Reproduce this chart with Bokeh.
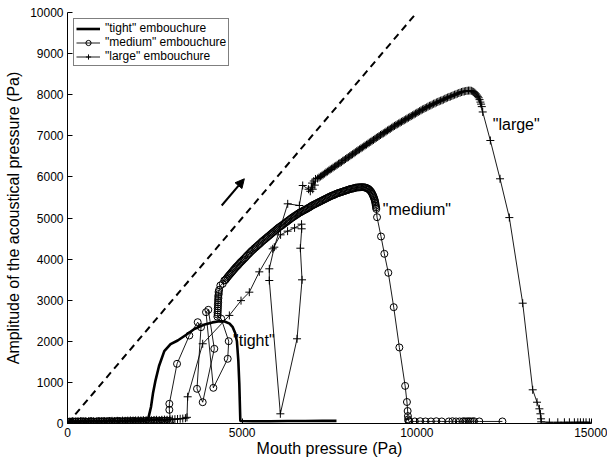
from bokeh.plotting import figure
from bokeh.models import (Range1d, FixedTicker, NumeralTickFormatter, Legend, LegendItem,
                          Arrow, NormalHead, ColumnDataSource)
from bokeh.core.properties import value
from bokeh.embed import file_html
from bokeh.resources import INLINE

FONT = "Liberation Sans"

# ---------------- "tight" embouchure (thick line, no markers) ----------------
tight_p = [0, 300, 600, 900, 1200, 1500, 1800, 2100, 2250, 2320, 2390, 2450, 2520, 2620,
           2771, 2950, 3155, 3400, 3630, 3900, 4150, 4350, 4500, 4640, 4730, 4800, 4850,
           4890, 4918, 4947, 4960, 5300, 5800, 6300, 6800, 7300, 7700]
tight_a = [45, 50, 50, 55, 55, 60, 65, 70, 75, 150, 400, 750, 1050, 1400,
           1760, 1930, 2020, 2160, 2300, 2400, 2460, 2490, 2480, 2430, 2343, 2200, 2000,
           1533, 973, 73, 60, 55, 55, 60, 60, 65, 65]

# ---------------- "medium" embouchure (circles) ----------------
# below threshold
medium_flat_p = [0, 50, 100, 150, 200, 250, 300, 350, 400, 450,
                 500, 550, 600, 650, 700, 750, 800, 850, 900, 950,
                 1000, 1050, 1100, 1150, 1200, 1250, 1300, 1350, 1400, 1450,
                 1500, 1550, 1600, 1650, 1700, 1750, 1800, 1850, 1900, 1950,
                 2000, 2050, 2100, 2150, 2200, 2250, 2300, 2350, 2400, 2450,
                 2500, 2550, 2600, 2650, 2700, 2750, 2800, 2850, 2900]
medium_flat_a = [40, 45, 35, 50, 40, 45, 50, 40, 55, 45,
                 50, 40, 45, 55, 50, 45, 40, 50, 55, 45,
                 50, 55, 45, 50, 60, 50, 45, 55, 50, 60,
                 55, 50, 45, 60, 55, 50, 60, 55, 65, 50,
                 55, 60, 50, 65, 55, 60, 65, 55, 60, 65,
                 70, 60, 55, 65, 70, 60, 65, 70, 60]
# unstable onset
medium_onset_p = [2950, 2915, 2915, 3135, 3487, 3727, 3822, 3707, 3870, 4203,
                  4031, 3965, 4175, 4586, 4615, 4400, 4290, 4300, 4295, 4305,
                  4300, 4310, 4305, 4315, 4310, 4320, 4315, 4330, 4325, 4340,
                  4375, 4443, 4489]
medium_onset_a = [60, 333, 479, 1452, 2141, 2465, 2343, 844, 518, 1817,
                  2766, 2709, 868, 1574, 2003, 2550, 2600, 2650, 2700, 2750,
                  2800, 2850, 2900, 2950, 3000, 3050, 3100, 3150, 3200, 3250,
                  3358, 3399, 3480]
# oscillating regime
medium_osc_p = [4520, 4550, 4580, 4610, 4640, 4670, 4700, 4730, 4760, 4790,
                4820, 4850, 4880, 4910, 4940, 4970, 5000,
                5035, 5070, 5105, 5140, 5175, 5210, 5245, 5280, 5315, 5350,
                5385, 5420, 5455, 5490, 5525, 5560, 5595, 5630, 5665, 5700,
                5735, 5770, 5805, 5840, 5875, 5910, 5945, 5980, 6015, 6050,
                6085, 6120, 6155, 6190, 6225, 6260, 6295, 6330, 6365, 6400,
                6435, 6470, 6505, 6540, 6575, 6610, 6645, 6680, 6715, 6750,
                6785, 6820, 6855, 6890, 6925, 6960, 6995, 7030, 7065, 7100,
                7135, 7170, 7205, 7240, 7275, 7310, 7345, 7380, 7415, 7450,
                7485, 7520, 7555, 7590, 7625, 7660, 7695, 7730, 7765, 7800,
                7835, 7870, 7905, 7940, 7975, 8010, 8045, 8080, 8115, 8150,
                8185, 8220, 8255, 8290, 8325, 8360, 8395, 8430, 8465,
                8500, 8530, 8560, 8590, 8615, 8640, 8665, 8690, 8710, 8730,
                8745, 8760, 8775, 8790, 8800, 8810, 8818, 8825, 8833, 8840]
medium_osc_a = [3490, 3525, 3560, 3590, 3620, 3650, 3680, 3710, 3740, 3770,
                3800, 3825, 3850, 3880, 3910, 3935, 3960,
                3990, 4020, 4050, 4085, 4115, 4145, 4175, 4205, 4230, 4260,
                4285, 4310, 4340, 4365, 4390, 4420, 4445, 4470, 4495, 4520,
                4545, 4570, 4595, 4620, 4645, 4670, 4695, 4720, 4745, 4770,
                4790, 4810, 4830, 4855, 4875, 4900, 4920, 4945, 4965, 4990,
                5010, 5030, 5050, 5070, 5090, 5110, 5130, 5145, 5160, 5180,
                5195, 5210, 5225, 5245, 5260, 5280, 5300, 5315, 5330, 5345,
                5360, 5375, 5390, 5405, 5420, 5435, 5450, 5465, 5480, 5495,
                5510, 5525, 5540, 5550, 5560, 5575, 5590, 5600, 5610, 5620,
                5630, 5640, 5650, 5660, 5670, 5680, 5690, 5700, 5710, 5715,
                5720, 5730, 5740, 5742, 5745, 5748, 5750, 5750, 5750,
                5745, 5740, 5730, 5720, 5705, 5690, 5665, 5640, 5610, 5580,
                5550, 5520, 5485, 5450, 5415, 5380, 5340, 5300, 5260, 5220]
# extinction
medium_ext_p = [8861, 8975, 9070, 9184, 9338, 9500, 9665, 9717, 9737, 9745, 9750, 9760,
                9788, 9943, 10097, 10249, 10404, 10558, 10713, 10916, 11019, 11122, 11225,
                11328, 11380, 11431, 11483, 11534, 11586, 11637, 11789, 12450]
medium_ext_a = [5020, 4550, 4129, 3667, 2830, 1850, 915, 523, 304, 180, 100, 60,
                50, 50, 55, 50, 50, 55, 50, 50, 55, 50, 50,
                55, 50, 50, 55, 50, 50, 55, 50, 50]

# ---------------- "large" embouchure (crosses) ----------------
large_flat_p = [0, 75, 150, 225, 300, 375, 450, 525, 600, 675,
                750, 825, 900, 975, 1050, 1125, 1200, 1275, 1350, 1425,
                1500, 1575, 1650, 1725, 1800, 1875, 1950, 2025, 2100, 2175,
                2250, 2325, 2400, 2475, 2550, 2625, 2700, 2775, 2850, 2925,
                3000, 3075, 3150, 3225, 3300, 3375, 3420]
large_flat_a = [50, 45, 55, 50, 45, 55, 50, 55, 50, 60,
                55, 50, 60, 55, 60, 55, 60, 65, 60, 65,
                60, 70, 65, 70, 75, 70, 75, 80, 75, 80,
                80, 85, 80, 85, 90, 85, 90, 95, 90, 95,
                100, 105, 110, 115, 120, 130, 150]
large_onset_p = [3440, 3870, 4633, 4967, 5205, 5490, 5874, 6100, 6300, 6500,
                 6700, 6704, 6665, 6714, 6571, 6093, 5777, 5777, 5920, 6304,
                 6637, 6733, 6900, 6950, 6980, 7000, 7020, 7050, 7080, 7100]
large_onset_a = [650, 1940, 2630, 2990, 3195, 3690, 4250, 4590, 4680, 4760,
                 4850, 4737, 4265, 3496, 2061, 236, 3479, 3764, 4290, 5345,
                 5304, 5791, 5700, 5650, 5750, 5850, 5700, 5900, 5800, 5950]
large_osc_p = [7160, 7200, 7240, 7280, 7320, 7360, 7400, 7440, 7480, 7520,
               7560, 7600, 7640, 7680, 7720, 7760, 7800, 7840, 7880, 7920,
               7960, 8000, 8040, 8080, 8120, 8160, 8200, 8240, 8280, 8320,
               8360, 8400, 8440, 8480, 8520, 8560, 8600, 8640, 8680, 8720,
               8760, 8800, 8840, 8880, 8920, 8960, 9000, 9040, 9080, 9120,
               9160, 9200, 9240, 9280, 9320, 9360, 9400, 9440, 9480, 9520,
               9560, 9600, 9640, 9680, 9720, 9760, 9800, 9840, 9880, 9920,
               9960, 10000, 10040, 10080, 10120, 10160, 10200, 10240, 10280, 10320,
               10360, 10400, 10440, 10480, 10520, 10560, 10600, 10640, 10680, 10720,
               10760, 10800, 10840, 10880, 10920, 10960, 11000, 11040, 11080, 11120,
               11160, 11200, 11240, 11280, 11320, 11360, 11400, 11440, 11480, 11520,
               11560, 11600, 11630, 11660, 11690, 11720, 11745, 11770, 11795, 11820,
               11840, 11860, 11886]
large_osc_a = [5960, 5985, 6010, 6030, 6055, 6080, 6110, 6130, 6155, 6180,
               6200, 6225, 6250, 6270, 6295, 6320, 6340, 6360, 6390, 6410,
               6435, 6460, 6480, 6505, 6530, 6550, 6575, 6600, 6625, 6650,
               6670, 6695, 6715, 6740, 6765, 6785, 6810, 6835, 6855, 6880,
               6900, 6925, 6950, 6970, 6995, 7020, 7040, 7060, 7080, 7105,
               7130, 7150, 7170, 7195, 7220, 7240, 7260, 7280, 7300, 7320,
               7340, 7360, 7380, 7400, 7420, 7440, 7460, 7480, 7500, 7520,
               7540, 7560, 7580, 7600, 7620, 7640, 7655, 7675, 7690, 7710,
               7730, 7740, 7760, 7780, 7790, 7810, 7825, 7840, 7855, 7865,
               7880, 7900, 7915, 7930, 7945, 7955, 7970, 7985, 8000, 8010,
               8025, 8040, 8050, 8065, 8075, 8080, 8090, 8095, 8100, 8100,
               8095, 8080, 8065, 8045, 8020, 7990, 7960, 7925, 7880, 7820,
               7770, 7710, 7580]
large_ext_p = [12104, 12382, 12648, 13031, 13317, 13441, 13508, 13537, 13556, 13560,
               13794, 14035, 14224, 14367, 14510, 14608, 14683, 14768, 14844, 14940]
large_ext_a = [6886, 5954, 5010, 2927, 820, 518, 357, 236, 114, 40,
               30, 30, 30, 30, 30, 30, 30, 30, 30, 30]

medium_p = medium_flat_p + medium_onset_p + medium_osc_p + medium_ext_p
medium_a = medium_flat_a + medium_onset_a + medium_osc_a + medium_ext_a
large_p = large_flat_p + large_onset_p + large_osc_p + large_ext_p
large_a = large_flat_a + large_onset_a + large_osc_a + large_ext_a

# reference line: amplitude equal to mouth pressure
ref_p = [0, 10000]
ref_a = [0, 10000]

# arrow: direction of increasing mouth pressure
arrow_from = (4414, 5304)
arrow_to = (5062, 5954)

# curve annotations
note_p = [4738, 9024, 12173]
note_a = [2019, 5207, 7275]
note_txt = ['"tight"', '"medium"', '"large"']

x_ticks = [0, 5000, 10000, 15000]
y_ticks = [0, 1000, 2000, 3000, 4000, 5000, 6000, 7000, 8000, 9000, 10000]

p = figure(width=607, height=469, output_backend="svg", toolbar_location=None,
           x_range=Range1d(0, 15000), y_range=Range1d(0, 10000),
           min_border_left=67, min_border_right=16, min_border_top=12, min_border_bottom=46)
p.outline_line_color = None
p.xgrid.visible = False
p.ygrid.visible = False
p.background_fill_color = "white"
p.border_fill_color = "white"

for ax, ticks in ((p.xaxis[0], x_ticks), (p.yaxis[0], y_ticks)):
    ax.ticker = FixedTicker(ticks=ticks)
    ax.formatter = NumeralTickFormatter(format="0")
    ax.minor_tick_line_color = None
    ax.major_tick_in = 5
    ax.major_tick_out = 0
    ax.axis_line_color = "black"
    ax.major_tick_line_color = "black"
    ax.major_label_text_font = FONT
    ax.major_label_text_font_size = "12px"
    ax.major_label_text_color = "black"
    ax.axis_label_text_font = FONT
    ax.axis_label_text_font_size = "16px"
    ax.axis_label_text_font_style = "normal"
    ax.axis_label_text_color = "black"
    ax.major_label_standoff = 4

p.xaxis.axis_label = "Mouth pressure (Pa)"
p.yaxis.axis_label = "Amplitude of the acoustical pressure (Pa)"
p.xaxis.axis_label_standoff = 0
p.yaxis.axis_label_standoff = 5

# dashed y = x line
p.line(ref_p, ref_a, line_color="black", line_width=2, line_dash="7 5")

# the three embouchure curves
r_tight = p.line(tight_p, tight_a, line_color="black", line_width=2.6)

r_med_line = p.line(medium_p, medium_a, line_color="black", line_width=0.9)
r_med_pts = p.scatter(medium_p, medium_a, marker="circle", size=7, fill_alpha=0,
                      line_color="black", line_width=1)

r_large_line = p.line(large_p, large_a, line_color="black", line_width=0.9)
r_large_pts = p.scatter(large_p, large_a, marker="cross", size=8,
                        line_color="black", line_width=1)

p.add_layout(Arrow(end=NormalHead(size=9, fill_color="black", line_color="black"),
                   x_start=arrow_from[0], y_start=arrow_from[1],
                   x_end=arrow_to[0], y_end=arrow_to[1],
                   line_color="black", line_width=2))

notes = ColumnDataSource(dict(x=note_p, y=note_a, t=note_txt))
p.text(x="x", y="y", text="t", source=notes, text_font=value(FONT),
       text_font_size="16px", text_align="left", text_baseline="middle", text_color="black")

legend = Legend(items=[
    LegendItem(label='"tight" embouchure', renderers=[r_tight]),
    LegendItem(label='"medium" embouchure', renderers=[r_med_line, r_med_pts]),
    LegendItem(label='"large" embouchure', renderers=[r_large_line, r_large_pts]),
], location="top_left")
legend.margin = 6
legend.padding = 2
legend.spacing = 0
legend.label_height = 13
legend.glyph_height = 13
legend.glyph_width = 24
legend.label_standoff = 5
legend.label_text_font = FONT
legend.label_text_font_size = "12px"
legend.label_text_color = "black"
legend.border_line_color = "black"
legend.border_line_width = 1
legend.background_fill_color = "white"
legend.background_fill_alpha = 1
p.add_layout(legend)

open("out.html", "w").write(file_html(p, INLINE))
